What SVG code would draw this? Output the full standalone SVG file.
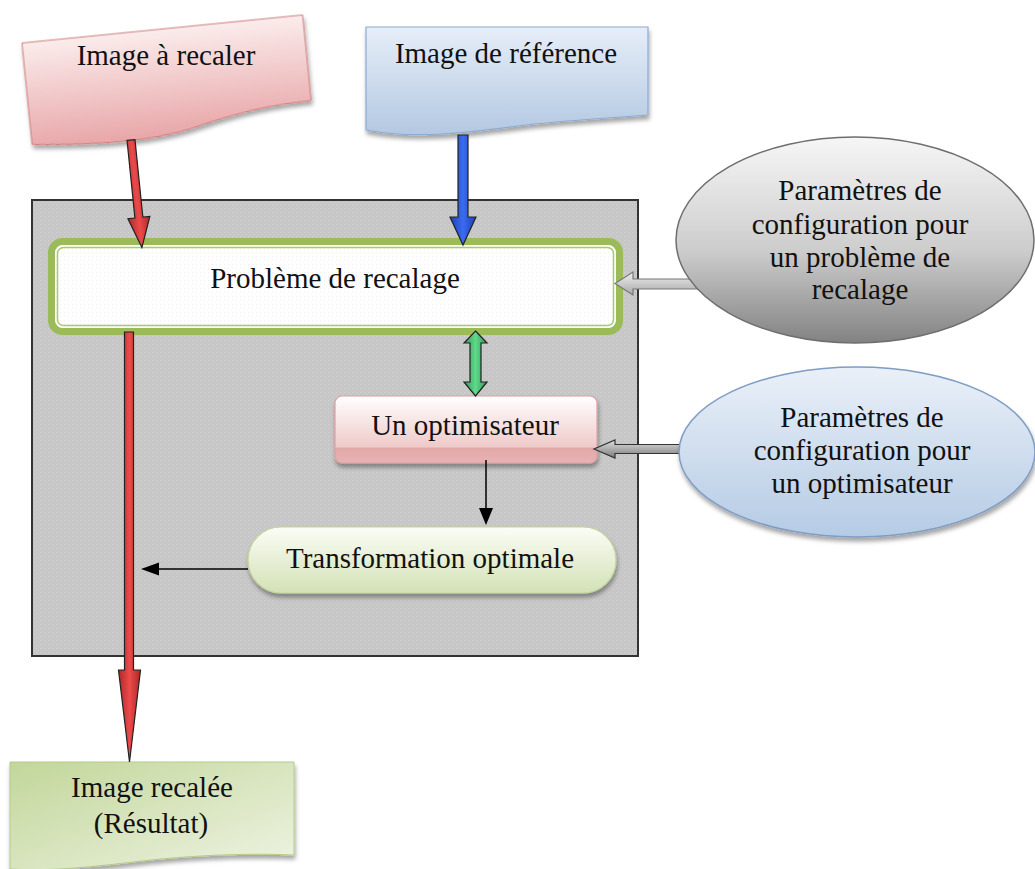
<svg xmlns="http://www.w3.org/2000/svg" width="1035" height="869" viewBox="0 0 1035 869">
<defs>
<style>
.t{font-family:"Liberation Serif","Times New Roman",serif;font-size:29px;fill:#111;text-anchor:middle}
.blk{stroke:#000;stroke-width:1.5;fill:none}
.ol{stroke:#222;stroke-width:1.2;stroke-linejoin:miter}
</style>
<pattern id="dots" width="4" height="4" patternUnits="userSpaceOnUse">
<rect width="4" height="4" fill="#c6c6c6"/>
<rect width="1" height="1" fill="#d6d6d6"/>
<rect x="2" y="2" width="1" height="1" fill="#d2d2d2"/>
</pattern>
<pattern id="wdots" width="4" height="4" patternUnits="userSpaceOnUse">
<rect width="4" height="4" fill="#ffffff"/>
<rect width="1" height="1" fill="#f0f0f0"/>
</pattern>
<filter id="sh" x="-10%" y="-10%" width="125%" height="135%">
<feDropShadow dx="1" dy="4" stdDeviation="2" flood-color="#000" flood-opacity="0.35"/>
</filter>
<linearGradient id="gPink" x1="0" y1="0" x2="0" y2="1">
<stop offset="0" stop-color="#fbecec"/>
<stop offset="1" stop-color="#e8a6a8"/>
</linearGradient>
<linearGradient id="gBlue" x1="0" y1="0" x2="0" y2="1">
<stop offset="0" stop-color="#e6eef8"/>
<stop offset="1" stop-color="#b3c8e2"/>
</linearGradient>
<linearGradient id="gGreenDoc" x1="0" y1="0" x2="1" y2="1">
<stop offset="0" stop-color="#c2d69a"/>
<stop offset="1" stop-color="#eef3e2"/>
</linearGradient>
<linearGradient id="gOpt" x1="0" y1="0" x2="0" y2="1">
<stop offset="0" stop-color="#ffffff"/>
<stop offset="0.76" stop-color="#efcaca"/>
<stop offset="0.78" stop-color="#e2a8a8"/>
<stop offset="1" stop-color="#e7b3b3"/>
</linearGradient>
<linearGradient id="gTrans" x1="0" y1="0" x2="0" y2="1">
<stop offset="0" stop-color="#fbfdf6"/>
<stop offset="1" stop-color="#d3e1b6"/>
</linearGradient>
<linearGradient id="gGrayEl" x1="0" y1="0" x2="0" y2="1">
<stop offset="0" stop-color="#f6f6f6"/>
<stop offset="0.55" stop-color="#cdcdcd"/>
<stop offset="1" stop-color="#828282"/>
</linearGradient>
<linearGradient id="gBlueEl" x1="0" y1="0" x2="0" y2="1">
<stop offset="0" stop-color="#eaf0f8"/>
<stop offset="1" stop-color="#b5cbe5"/>
</linearGradient>
<linearGradient id="gRed" x1="0" y1="0" x2="1" y2="0">
<stop offset="0" stop-color="#b02828"/>
<stop offset="0.5" stop-color="#ec4a4a"/>
<stop offset="1" stop-color="#b02828"/>
</linearGradient>
<linearGradient id="gBlueA" x1="0" y1="0" x2="1" y2="0">
<stop offset="0" stop-color="#1f3fb8"/>
<stop offset="0.5" stop-color="#3a6cf0"/>
<stop offset="1" stop-color="#1f3fb8"/>
</linearGradient>
<linearGradient id="gGreenA" x1="0" y1="0" x2="1" y2="0">
<stop offset="0" stop-color="#2e9a58"/>
<stop offset="0.5" stop-color="#5fd98a"/>
<stop offset="1" stop-color="#2e9a58"/>
</linearGradient>
<linearGradient id="gGrayA" x1="0" y1="0" x2="0" y2="1">
<stop offset="0" stop-color="#f0f0f0"/>
<stop offset="1" stop-color="#a8a8a8"/>
</linearGradient>
<linearGradient id="gGrayA2" x1="0" y1="0" x2="0" y2="1">
<stop offset="0" stop-color="#e0e0e0"/>
<stop offset="1" stop-color="#7a7a7a"/>
</linearGradient>
</defs>

<rect width="1035" height="869" fill="#ffffff"/>

<g id="container">
<rect x="32" y="200" width="606" height="456" fill="url(#dots)" stroke="#333" stroke-width="2"/>
</g>

<g id="probleme">
<rect x="51.5" y="241.5" width="568" height="90" rx="11" fill="url(#wdots)" stroke="#9bbb59" stroke-width="7"/>
<rect x="57.5" y="247.5" width="556" height="78" rx="6" fill="none" stroke="#a9c96a" stroke-width="1.5"/>
<text class="t" x="335" y="288">Problème de recalage</text>
</g>

<g id="optimiseur">
<rect x="335" y="396" width="262" height="67" rx="7" fill="url(#gOpt)" stroke="#dca0a0" stroke-width="1.2" filter="url(#sh)"/>
<text class="t" x="465" y="435">Un optimisateur</text>
</g>

<g id="transformation">
<rect x="248" y="527" width="368" height="66" rx="33" fill="url(#gTrans)" stroke="#c3d69b" stroke-width="1.2" filter="url(#sh)"/>
<text class="t" x="430" y="568">Transformation optimale</text>
</g>

<g id="image-a-recaler">
<g transform="translate(22,43) rotate(-5.7)">
<path d="M0,0 H282 V86 C245,86 210,90 168,100 C118,112 60,108 0,102 Z" fill="url(#gPink)" stroke="#d07a7a" stroke-width="1" filter="url(#sh)"/>
</g>
<text class="t" x="166" y="65">Image à recaler</text>
</g>

<g id="image-reference">
<path d="M366,27 H648 V115 C610,118 570,120 526,125 C470,132 420,140 366,130 Z" fill="url(#gBlue)" stroke="#8eaad0" stroke-width="1.2" filter="url(#sh)"/>
<text class="t" x="506" y="63">Image de référence</text>
</g>

<g id="image-recalee">
<path d="M10,762 H294 V855 C250,853 200,855 150,860 C100,866 50,872 10,869 Z" fill="url(#gGreenDoc)" stroke="#b5cc88" stroke-width="1" filter="url(#sh)"/>
<text class="t" x="152" y="797">Image recalée</text>
<text class="t" x="151" y="833">(Résultat)</text>
</g>

<g id="connectors">
<g transform="translate(131,140) rotate(-5.8)">
<path d="M-4,0 H4 V78 H11 L0,108 L-11,78 H-4 Z" fill="url(#gRed)" class="ol"/>
</g>
<path d="M458,135 H468 V217 H476 L463,245 L450,217 H458 Z" fill="url(#gBlueA)" class="ol"/>
<path d="M124.5,332 H133.5 V670 H140.5 L129.5,762 L118.5,670 H124.5 Z" fill="url(#gRed)" class="ol"/>
<path d="M475.5,331 L487,343 H481 V382 H487 L475.5,396 L464,382 H470 V343 H464 Z" fill="url(#gGreenA)" class="ol"/>
<path d="M700,279 H633 V272 L615,283.5 L633,295 V289 H700 Z" fill="url(#gGrayA)" stroke="#777" stroke-width="1.2"/>
<path d="M684,444.5 H615 V440 L594,449 L615,458 V453.5 H684 Z" fill="url(#gGrayA2)" stroke="#333" stroke-width="1.2"/>
<line x1="486" y1="460" x2="486" y2="510" class="blk"/>
<path d="M479,508 H493 L486,525 Z" fill="#000"/>
<line x1="248" y1="569" x2="158" y2="569" class="blk"/>
<path d="M159,562.5 V575.5 L141,569 Z" fill="#000"/>
</g>

<g id="config-probleme">
<ellipse cx="855" cy="240" rx="179" ry="103" fill="url(#gGrayEl)" stroke="#6e6e6e" stroke-width="1.5"/>
<text class="t" x="860" y="200">Paramètres de</text>
<text class="t" x="860" y="234">configuration pour</text>
<text class="t" x="860" y="267">un problème de</text>
<text class="t" x="860" y="299">recalage</text>
</g>

<g id="config-optimiseur">
<ellipse cx="857" cy="452" rx="178" ry="85" fill="url(#gBlueEl)" stroke="#7f9cc4" stroke-width="1.5" filter="url(#sh)"/>
<text class="t" x="862" y="427">Paramètres de</text>
<text class="t" x="862" y="460">configuration pour</text>
<text class="t" x="862" y="493">un optimisateur</text>
</g>
</svg>
